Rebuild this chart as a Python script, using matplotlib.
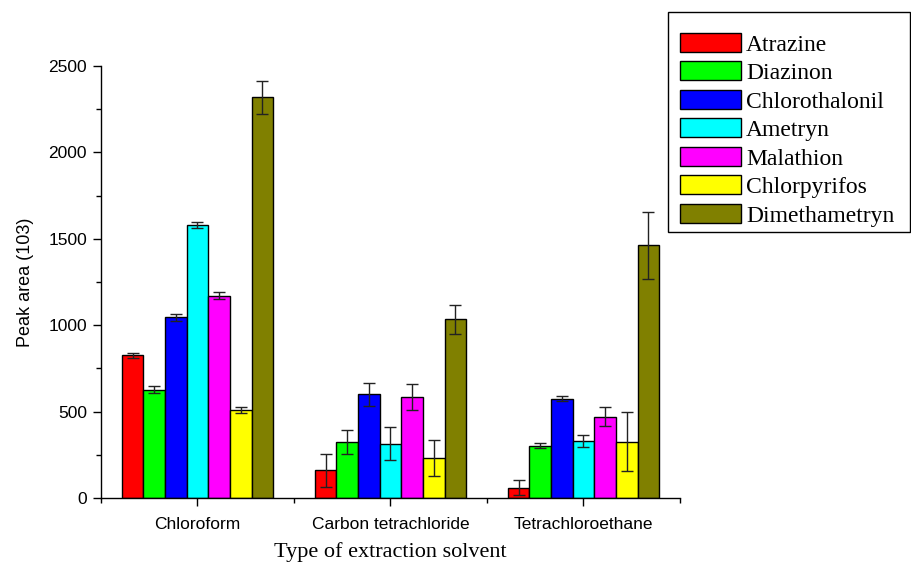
import matplotlib
matplotlib.use("Agg")
import matplotlib.pyplot as plt
import numpy as np
from matplotlib.ticker import MultipleLocator, FixedLocator
from matplotlib.patches import Rectangle

solvents = ["Chloroform", "Carbon tetrachloride", "Tetrachloroethane"]
analytes = ["Atrazine", "Diazinon", "Chlorothalonil", "Ametryn", "Malathion", "Chlorpyrifos", "Dimethametryn"]
colors = ["#ff0000", "#00ff00", "#0000ff", "#00ffff", "#ff00ff", "#ffff00", "#808000"]

values = {
    "Atrazine":       [825, 160, 60],
    "Diazinon":       [628, 325, 303],
    "Chlorothalonil": [1045, 600, 575],
    "Ametryn":        [1578, 315, 330],
    "Malathion":      [1172, 585, 470],
    "Chlorpyrifos":   [508, 230, 325],
    "Dimethametryn":  [2320, 1035, 1462],
}
errors = {
    "Atrazine":       [15, 95, 45],
    "Diazinon":       [20, 70, 15],
    "Chlorothalonil": [18, 65, 15],
    "Ametryn":        [18, 95, 35],
    "Malathion":      [18, 75, 55],
    "Chlorpyrifos":   [18, 105, 170],
    "Dimethametryn":  [95, 85, 192],
}

fig = plt.figure(figsize=(9.12, 5.65), dpi=100)
ax = fig.add_axes([0.1107, 0.1186, 0.7456 - 0.1107, 0.883 - 0.1186])

x = np.arange(len(solvents))
n = len(analytes)
w = 0.112
for i, name in enumerate(analytes):
    pos = x + (i - (n - 1) / 2) * w
    ax.bar(pos, values[name], width=w, color=colors[i], edgecolor="black", linewidth=1.0,
           label=name, zorder=2)
    ax.errorbar(pos, values[name], yerr=errors[name], fmt="none", ecolor="#222222",
                elinewidth=1.0, capsize=4, capthick=1.0, zorder=3)

ax.set_xlim(-0.5, 2.5)
ax.set_ylim(0, 2500)
ax.set_xticks(x)
ax.set_xticklabels(solvents, fontsize=12.5, family="Liberation Sans")
ax.xaxis.set_minor_locator(FixedLocator([-0.5, 0.5, 1.5, 2.5]))
ax.yaxis.set_major_locator(MultipleLocator(500))
ax.yaxis.set_minor_locator(MultipleLocator(250))
for lab in ax.get_yticklabels():
    lab.set_family("Liberation Sans")
    lab.set_fontsize(12.5)
ax.tick_params(axis="both", which="major", direction="out", length=6, width=1, pad=4)
ax.tick_params(axis="both", which="minor", direction="out", length=3.5, width=1)
ax.tick_params(axis="x", pad=8)
for s in ["top", "right"]:
    ax.spines[s].set_visible(False)
for s in ["left", "bottom"]:
    ax.spines[s].set_linewidth(1.0)

ax.set_ylabel("Peak area (103)", fontsize=13, family="Liberation Sans", labelpad=10)
ax.set_xlabel("Type of extraction solvent", fontsize=16, family="Liberation Serif", labelpad=7)

# legend frame drawn separately (asymmetric padding as in the reference)
W, H = 912, 565
fig.patches.append(Rectangle((668 / W, 1 - 232 / H), (910 - 668) / W, (232 - 12) / H,
                             transform=fig.transFigure, facecolor="white",
                             edgecolor="black", linewidth=1.0, zorder=1))
leg = fig.legend(loc="upper left", bbox_to_anchor=(680 / W, 1 - 33 / H),
                 prop={"family": "Liberation Serif", "size": 17},
                 frameon=False,
                 handlelength=2.6, handleheight=0.85, handletextpad=0.2,
                 labelspacing=0.25, borderpad=0, borderaxespad=0)

fig.savefig("out.png", dpi=100)
